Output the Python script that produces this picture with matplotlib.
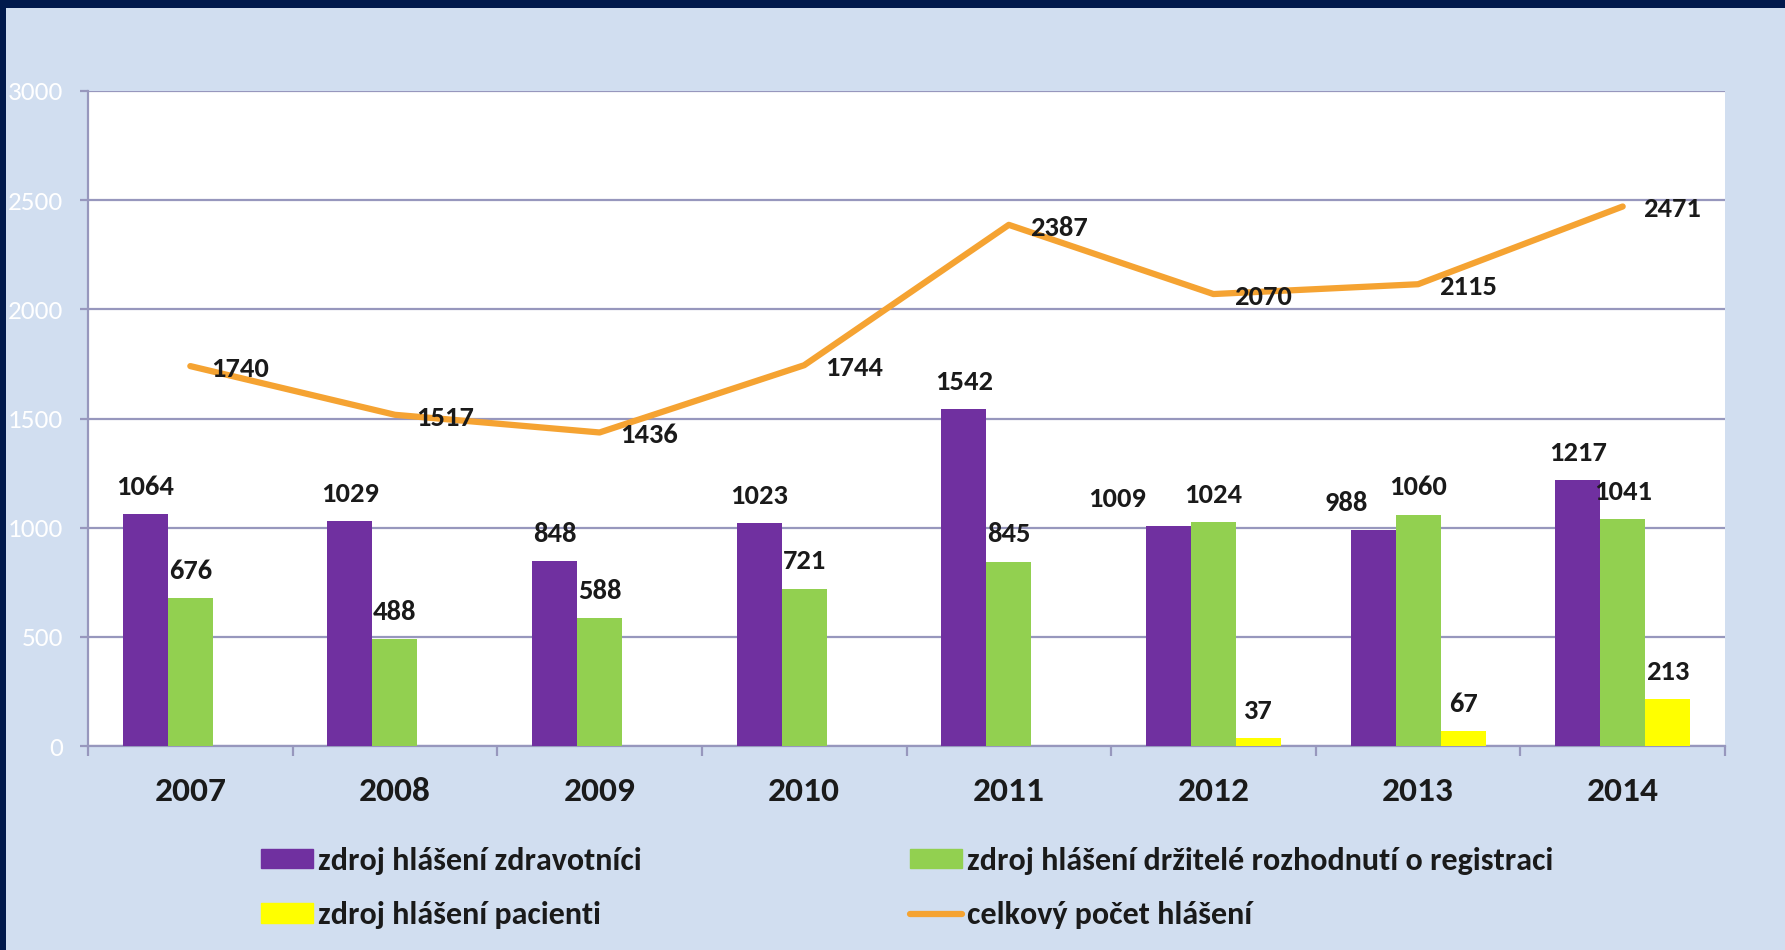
import numpy as np
import matplotlib.pyplot as plt
from matplotlib.patches import Rectangle, Patch
from matplotlib.lines import Line2D

plt.rcParams['font.family'] = ['Carlito', 'DejaVu Sans']

# data
roky = ['2007', '2008', '2009', '2010', '2011', '2012', '2013', '2014']
zdravotnici = [1064, 1029, 848, 1023, 1542, 1009, 988, 1217]
drzitele = [676, 488, 588, 721, 845, 1024, 1060, 1041]
pacienti = [0, 0, 0, 0, 0, 37, 67, 213]
celkem = [1740, 1517, 1436, 1744, 2387, 2070, 2115, 2471]

c_fial = '#7030A0'
c_zel = '#92D050'
c_zlu = '#FFFF00'
c_oranz = '#F5A332'
c_pozadi = '#D1DEF0'
c_ramec = '#00194C'
c_mrizka = '#9797BD'
c_text = '#1A1A1A'

fig = plt.figure(figsize=(17.85, 9.5), dpi=100, facecolor=c_ramec)
fig.patches.append(Rectangle((6 / 1785, 0), 1, 1 - 8 / 950, transform=fig.transFigure,
                             facecolor=c_pozadi, edgecolor='none', zorder=-10))

ax = fig.add_axes([88 / 1785, 204 / 950, 1637 / 1785, 655 / 950])
ax.set_facecolor('white')

x = np.arange(len(roky))
w = 0.22
ax.bar(x - w, zdravotnici, w, color=c_fial, zorder=3)
ax.bar(x, drzitele, w, color=c_zel, zorder=3)
ax.bar(x + w, pacienti, w, color=c_zlu, zorder=3)
ax.plot(x, celkem, color=c_oranz, lw=4.5, zorder=4, solid_capstyle='round')

# popisky hodnot (nektere posunute doleva, aby se neprekryvaly)
posun = {5: -37, 6: -19}
fs = 20.5
for i in range(len(roky)):
    ax.annotate(str(zdravotnici[i]), (x[i] - w, zdravotnici[i]), xytext=(posun.get(i, 0), 19.5),
                textcoords='offset points', ha='center', va='center',
                fontsize=fs, fontweight='bold', color=c_text, zorder=5)
    ax.annotate(str(drzitele[i]), (x[i], drzitele[i]), xytext=(0, 19.5),
                textcoords='offset points', ha='center', va='center',
                fontsize=fs, fontweight='bold', color=c_text, zorder=5)
    if pacienti[i] > 0:
        ax.annotate(str(pacienti[i]), (x[i] + w, pacienti[i]), xytext=(0, 19.5),
                    textcoords='offset points', ha='center', va='center',
                    fontsize=fs, fontweight='bold', color=c_text, zorder=5)
    ax.annotate(str(celkem[i]), (x[i], celkem[i]), xytext=(15, -2),
                textcoords='offset points', ha='left', va='center',
                fontsize=fs, fontweight='bold', color=c_text, zorder=5)

ax.set_xlim(-0.5, len(roky) - 0.5)
ax.set_ylim(0, 3000)
ax.set_yticks(np.arange(0, 3001, 500))
ax.yaxis.grid(True, color=c_mrizka, lw=1.6, zorder=0)
ax.tick_params(axis='y', colors=c_mrizka, labelcolor='white', labelsize=19.5,
               length=6, width=1.6, pad=12)

ax.set_xticks(np.arange(-0.5, len(roky)), minor=False)
ax.set_xticklabels([])
ax.set_xticks(x, minor=True)
ax.set_xticklabels(roky, minor=True, fontsize=25.5, fontweight='bold', color=c_text)
ax.tick_params(axis='x', which='major', colors=c_mrizka, length=7, width=1.6)
ax.tick_params(axis='x', which='minor', length=0, pad=22)

for s in ['top', 'right']:
    ax.spines[s].set_visible(False)
for s in ['left', 'bottom']:
    ax.spines[s].set_color(c_mrizka)
    ax.spines[s].set_linewidth(1.6)

handles = [Patch(color=c_fial), Patch(color=c_zlu), Patch(color=c_zel),
           Line2D([], [], color=c_oranz, lw=4.5, solid_capstyle='round')]
labels = ['zdroj hlášení zdravotníci', 'zdroj hlášení pacienti',
          'zdroj hlášení držitelé rozhodnutí o registraci', 'celkový počet hlášení']
leg = fig.legend(handles, labels, ncol=2, loc='upper left', bbox_to_anchor=(261 / 1785, 1 - 847 / 950),
                 frameon=False, prop={'size': 23, 'weight': 'bold'},
                 handlelength=1.63, handleheight=0.56, handletextpad=0.16,
                 columnspacing=8.4, labelspacing=0.82, borderaxespad=0, borderpad=0)
for t in leg.get_texts():
    t.set_color(c_text)

plt.savefig('out.png', dpi=100, facecolor=fig.get_facecolor())
